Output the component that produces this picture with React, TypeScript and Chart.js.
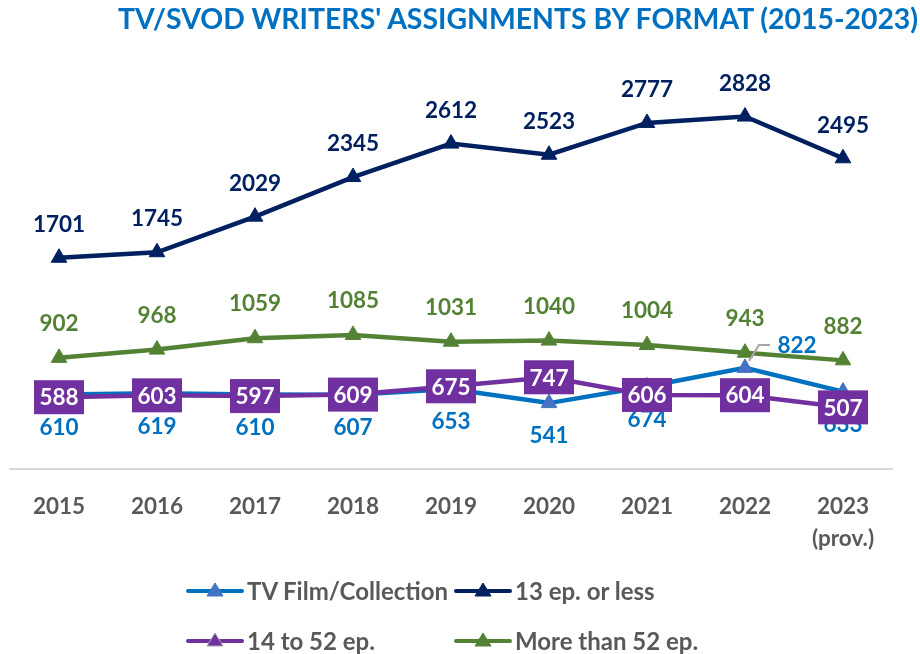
import React, { useEffect, useRef } from "react";
import { Chart, registerables } from "chart.js";

Chart.register(...registerables);

const years: (string | string[])[] = ["2015", "2016", "2017", "2018", "2019", "2020", "2021", "2022", ["2023", "(prov.)"]];
const tvFilm = [610, 619, 610, 607, 653, 541, 674, 822, 633];
const ep13OrLess = [1701, 1745, 2029, 2345, 2612, 2523, 2777, 2828, 2495];
const ep14to52 = [588, 603, 597, 609, 675, 747, 606, 604, 507];
const ep52Plus = [902, 968, 1059, 1085, 1031, 1040, 1004, 943, 882];

const seriesNames = ["TV Film/Collection", "13 ep. or less", "14 to 52 ep.", "More than 52 ep."];

const C_BLUE = "#0070C0";
const C_BLUE_MK = "#4472C4";
const C_NAVY = "#002060";
const C_PURPLE = "#7030A0";
const C_GREEN = "#548235";
const C_GRAY = "#595959";
const FONT = "Lato, 'Open Sans', sans-serif";

const labelPlugin = {
  id: "valueLabels",
  afterDatasetsDraw(chart: any) {
    const ctx = chart.ctx as CanvasRenderingContext2D;
    ctx.save();
    ctx.font = `bold 22.5px ${FONT}`;
    ctx.textAlign = "center";
    ctx.textBaseline = "middle";
    const each = (idx: number, fn: (x: number, y: number, v: number, i: number) => void) => {
      const meta = chart.getDatasetMeta(idx);
      const data = chart.data.datasets[idx].data as number[];
      meta.data.forEach((p: any, i: number) => fn(p.x, p.y, data[i], i));
    };
    // 13 ep. or less: above
    ctx.fillStyle = C_NAVY;
    each(1, (x, y, v) => ctx.fillText(String(v), x, y - 33));
    // More than 52 ep.: above
    ctx.fillStyle = C_GREEN;
    each(3, (x, y, v) => ctx.fillText(String(v), x, y - 34));
    // TV Film: below, 2022 with leader line
    each(0, (x, y, v, i) => {
      if (i === 7) {
        ctx.strokeStyle = "#A6A6A6";
        ctx.lineWidth = 2;
        ctx.beginPath();
        ctx.moveTo(x + 4, y - 7);
        ctx.lineTo(x + 14, y - 23);
        ctx.lineTo(x + 25, y - 23);
        ctx.stroke();
        ctx.fillStyle = C_BLUE;
        ctx.fillText(String(v), x + 52, y - 22);
      } else {
        ctx.fillStyle = C_BLUE;
        ctx.fillText(String(v), x, y + 33);
      }
    });
    // 14 to 52 ep.: boxed
    each(2, (x, y, v) => {
      ctx.fillStyle = C_PURPLE;
      ctx.fillRect(x - 25, y - 17, 50, 34);
      ctx.fillStyle = "#FFFFFF";
      ctx.fillText(String(v), x, y + 1);
    });
    ctx.restore();
  },
};

function LegendItem({ line, marker, stroke, label, left, top }: any) {
  return (
    <div style={{ position: "absolute", left, top, display: "flex", alignItems: "center", whiteSpace: "nowrap" }}>
      <svg width="58" height="22" style={{ display: "block" }}>
        <line x1="2" y1="11" x2="56" y2="11" stroke={line} strokeWidth="4" strokeLinecap="round" />
        <polygon points="29,3 37,16 21,16" fill={marker} stroke={stroke || marker} strokeWidth="1" />
      </svg>
      <span style={{ font: `bold 24px ${FONT}`, color: C_GRAY, marginLeft: 3 }}>{label}</span>
    </div>
  );
}

export default function App() {
  const ref = useRef<HTMLCanvasElement>(null);
  useEffect(() => {
    if (!ref.current) return;
    const mk = (label: string, data: number[], color: string, mkColor: string, order: number, border?: string) => ({
      label,
      data,
      borderColor: color,
      backgroundColor: mkColor,
      pointBackgroundColor: mkColor,
      pointBorderColor: border || mkColor,
      pointBorderWidth: 1,
      pointStyle: "triangle",
      pointRadius: 9,
      borderWidth: 4.5,
      tension: 0,
      order,
    });
    const chart = new Chart(ref.current, {
      type: "line",
      data: {
        labels: years as any,
        datasets: [
          mk(seriesNames[0], tvFilm, C_BLUE, C_BLUE_MK, 2),
          mk(seriesNames[1], ep13OrLess, C_NAVY, C_NAVY, 1),
          mk(seriesNames[2], ep14to52, C_PURPLE, C_PURPLE, 0, "#A6A6A6"),
          mk(seriesNames[3], ep52Plus, C_GREEN, C_GREEN, 3),
        ] as any,
      },
      options: {
        animation: false,
        responsive: false,
        devicePixelRatio: 1,
        layout: { padding: { left: 5, right: 28, top: 95, bottom: 85 } },
        plugins: { legend: { display: false }, tooltip: { enabled: false }, title: { display: false } },
        scales: {
          x: {
            offset: true,
            grid: { display: false, drawTicks: false },
            border: { display: true, color: "#D9D9D9", width: 2 },
            ticks: { color: C_GRAY, font: { family: FONT, weight: "bold", size: 22.5, lineHeight: 1.45 }, padding: 21, maxRotation: 0, autoSkip: false },
            afterFit: (s: any) => {
              s.height = 100;
            },
          },
          y: { display: false, min: 15, max: 3000 },
        },
      } as any,
      plugins: [labelPlugin],
    });
    return () => chart.destroy();
  }, []);

  return (
    <div style={{ position: "fixed", left: 0, top: 0, width: 920, height: 654, background: "#fff", overflow: "hidden" }}>
      <canvas ref={ref} width={920} height={654} style={{ position: "absolute", left: 0, top: 0, display: "block" }} />
      <div
        style={{
          position: "absolute",
          left: 118,
          top: 1,
          whiteSpace: "nowrap",
          font: `bold 28.4px ${FONT}`,
          color: C_BLUE,
        }}
      >
        TV/SVOD WRITERS' ASSIGNMENTS BY FORMAT (2015-2023)
      </div>
      <LegendItem line={C_BLUE} marker={C_BLUE_MK} label={seriesNames[0]} left={186} top={576} />
      <LegendItem line={C_NAVY} marker={C_NAVY} label={seriesNames[1]} left={454} top={576} />
      <LegendItem line={C_PURPLE} marker={C_PURPLE} stroke="#A6A6A6" label={seriesNames[2]} left={186} top={626} />
      <LegendItem line={C_GREEN} marker={C_GREEN} label={seriesNames[3]} left={454} top={626} />
    </div>
  );
}
